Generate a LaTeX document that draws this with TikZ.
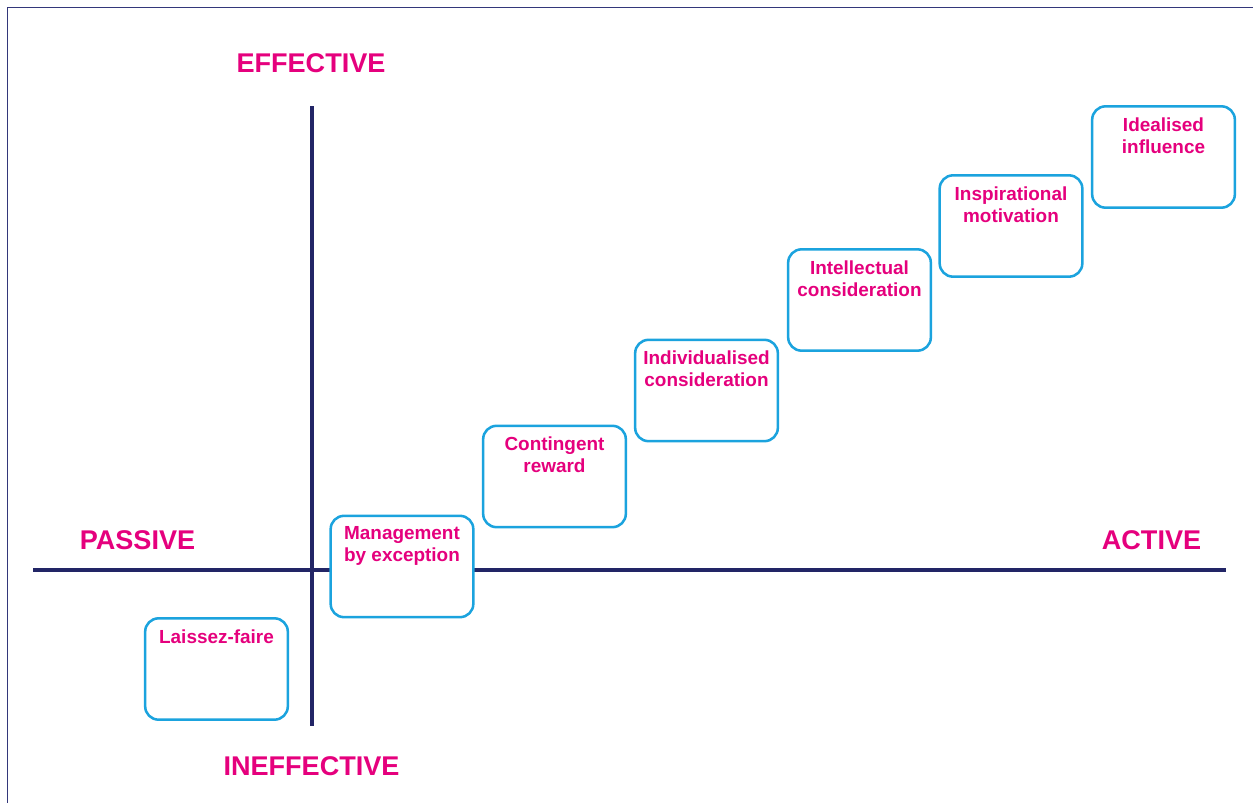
\documentclass[tikz,border=0pt]{standalone}
\usepackage{fontspec}
\setmainfont{Liberation Sans}
\usetikzlibrary{positioning}
\definecolor{rosa}{HTML}{E5007D}
\definecolor{ciano}{HTML}{1BA3DE}
\definecolor{marinho}{HTML}{222566}
\definecolor{moldura}{HTML}{33377A}
\begin{document}
\begin{tikzpicture}[x=0.75pt, y=-0.75pt,
  eixo/.style={line width=3pt, color=marinho},
  rotulo/.style={text=rosa, font=\bfseries\fontsize{20.3}{24}\selectfont, inner sep=0pt},
  etapa/.style={rectangle, rounded corners=10pt, draw=ciano, fill=white, line width=1.9pt, minimum width=107pt, minimum height=76pt},
  texto/.style={text=rosa, font=\bfseries\fontsize{14.2}{16.5}\selectfont, align=center, inner sep=0pt}]
\useasboundingbox (0,0) rectangle (1253,803);
\draw[moldura, line width=1.4pt] (7.5,803) -- (7.5,7.5) -- (1253,7.5);

\coordinate (esq) at (33,570);
\coordinate (dir) at (1226,570);
\coordinate (topo) at (312,106);
\coordinate (base) at (312,726);
\draw[eixo] (esq) -- (dir);
\draw[eixo] (topo) -- (base);

\node[rotulo](efetivo) at (311,63){EFFECTIVE};
\node[rotulo](inefetivo) at (311.5,766){INEFFECTIVE};
\node[rotulo](passivo) at (137.5,540){PASSIVE};
\node[rotulo](ativo) at (1151.5,540){ACTIVE};

\node[etapa](laissez) at (216.5,669){};
\node[etapa](gestao) at (402,566.5){};
\node[etapa](recompensa) at (554.5,476.5){};
\node[etapa](individual) at (706.5,390.5){};
\node[etapa](intelecto) at (859.5,300){};
\node[etapa](inspira) at (1011,226){};
\node[etapa](ideal) at (1163.5,157){};

\node[texto, below=9pt of laissez.north](tlaissez){Laissez-faire};
\node[texto, below=9pt of gestao.north](tgestao){Management\\by exception};
\node[texto, below=9pt of recompensa.north](trecompensa){Contingent\\reward};
\node[texto, below=9pt of individual.north](tindividual){Individualised\\consideration};
\node[texto, below=9pt of intelecto.north](tintelecto){Intellectual\\consideration};
\node[texto, below=9pt of inspira.north](tinspira){Inspirational\\motivation};
\node[texto, below=9pt of ideal.north](tideal){Idealised\\influence};

\end{tikzpicture}
\end{document}
